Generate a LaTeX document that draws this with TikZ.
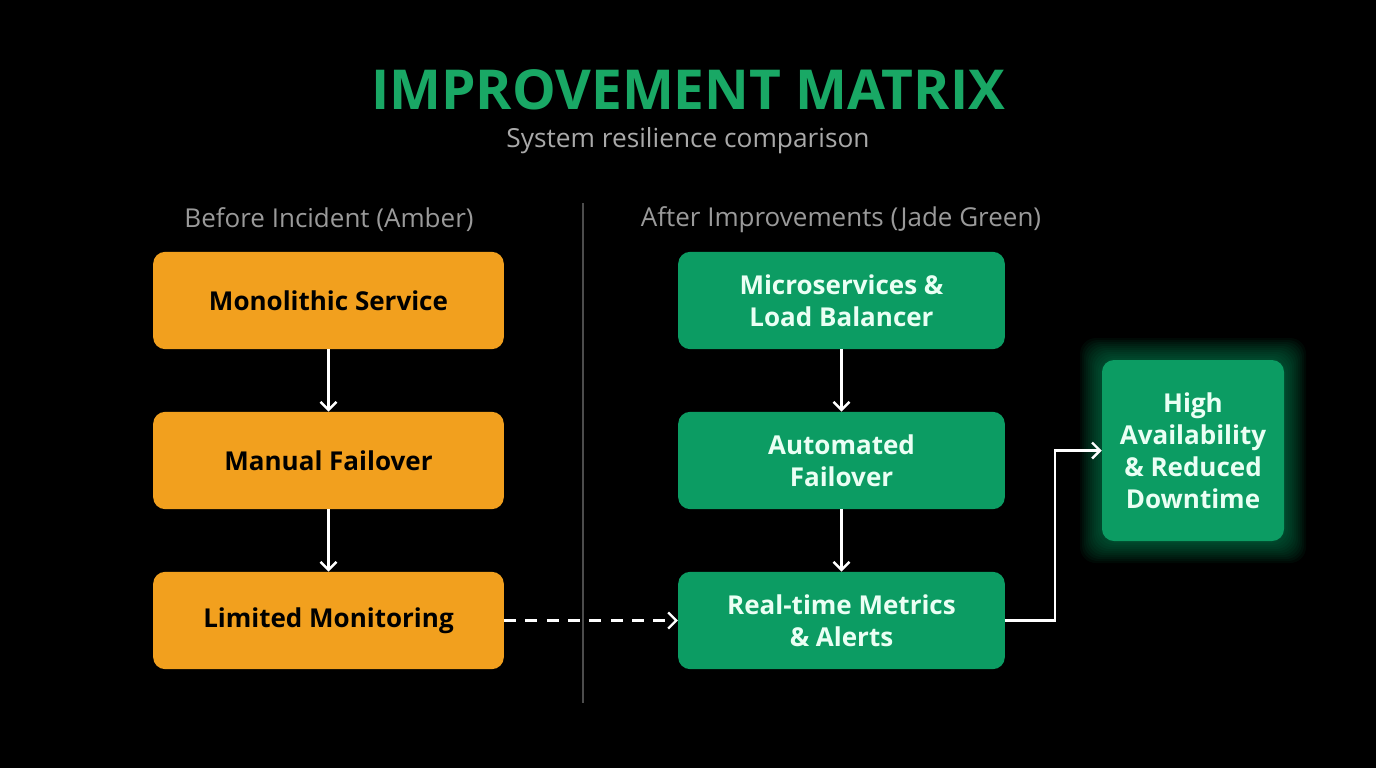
\documentclass[tikz,border=0pt]{standalone}
\usepackage{fontspec}
\setmainfont{Open Sans}
\usepackage{tikz}
\usetikzlibrary{arrows.meta,positioning}
\definecolor{bg}{HTML}{000000}
\definecolor{titlegreen}{HTML}{19A865}
\definecolor{subgrey}{HTML}{A9A9A9}
\definecolor{headgrey}{HTML}{9A9A9A}
\definecolor{rule}{HTML}{4C4C4C}
\definecolor{amber}{HTML}{F2A01E}
\definecolor{jade}{HTML}{0C9C63}
\definecolor{mint}{HTML}{EAFFF4}
\tikzset{
  card/.style={rounded corners=9pt, align=center, inner sep=0pt,
    font=\fontsize{19.5}{24}\selectfont\bfseries},
  amberbox/.style={card, fill=amber, text=black, minimum width=263pt, minimum height=73pt},
  jadebox/.style={card, fill=jade, text=mint, minimum width=245pt, minimum height=73pt},
  goalbox/.style={card, fill=jade, text=mint, minimum width=136pt, minimum height=136pt},
  glow/.style={fill=jade, rounded corners=12pt, opacity=0.06},
  flow/.style={draw=white, line width=1.8pt, -{Straight Barb[length=6pt,width=12pt]}},
  hint/.style={flow, dash pattern=on 9pt off 7pt},
  head/.style={text=headgrey, font=\fontsize{19.5}{22}\selectfont},
}

\begin{document}
\begin{tikzpicture}[x=0.75pt,y=-0.75pt]
  % page
  \fill[bg] (0,0) rectangle (1376,768);

  % title
  \node[text=titlegreen, font=\fontsize{41.3}{46}\selectfont\bfseries] (title) at (688,90) {IMPROVEMENT MATRIX};
  \node[text=subgrey, font=\fontsize{19.7}{22}\selectfont] (sub) at (688,141) {System resilience comparison};

  % columns
  \node[head] (before) at (329,220) {Before Incident (Amber)};
  \node[head] (after) at (841,220) {After Improvements (Jade Green)};
  \coordinate (rtop) at (583,203);
  \coordinate (rbot) at (583,703);
  \draw[rule, line width=1.5pt] (rtop) -- (rbot);

  % before
  \node[amberbox] (mono) at (328.5,300.5) {Monolithic Service};
  \node[amberbox] (manual) at (328.5,460.5) {Manual Failover};
  \node[amberbox] (limited) at (328.5,620.5) {Limited Monitoring};

  % after
  \node[jadebox] (micro) at (841.5,300.5) {Microservices \&\\Load Balancer};
  \node[jadebox] (auto) at (841.5,460.5) {Automated\\Failover};
  \node[jadebox] (metrics) at (841.5,620.5) {Real-time Metrics\\\& Alerts};

  % goal with glow
  \foreach \g in {2,4,...,22}
    \fill[glow] (1102-\g,360-\g) rectangle (1284+\g,541+\g);
  \node[goalbox, minimum width=136.5pt, minimum height=135.75pt] (goal) at (1193,450.5) {High\\Availability\\\& Reduced\\Downtime};

  % links
  \draw[flow] (mono) -- (manual);
  \draw[flow] (manual) -- (limited);
  \draw[flow] (micro) -- (auto);
  \draw[flow] (auto) -- (metrics);
  \draw[hint] (limited) -- (metrics);
  \coordinate (bend) at (1055,620.5);
  \draw[flow] (metrics) -- (bend) |- (goal);
\end{tikzpicture}
\end{document}
